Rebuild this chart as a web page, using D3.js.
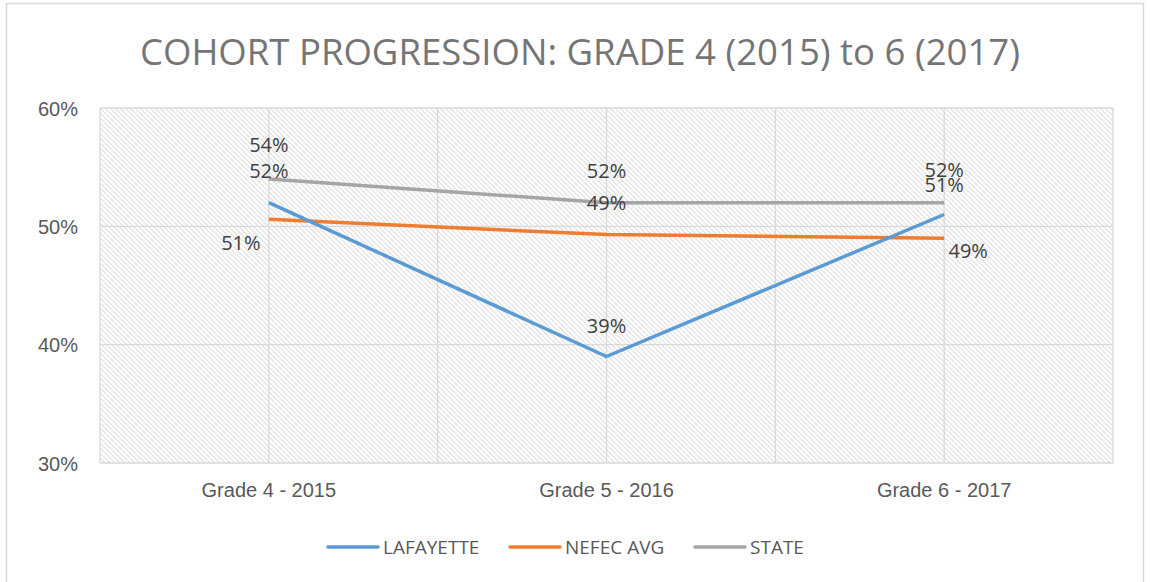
<!DOCTYPE html>
<html>
<head>
<meta charset="utf-8">
<script src="https://d3js.org/d3.v7.min.js"></script>
<style>
  html, body { margin: 0; padding: 0; background: #fff; }
  svg { display: block; font-family: "Open Sans", "Noto Sans", sans-serif; }
</style>
</head>
<body>
<div id="chart"></div>
<script>
// chart data
var categories = ["Grade 4 - 2015", "Grade 5 - 2016", "Grade 6 - 2017"];
var seriesNames = ["LAFAYETTE", "NEFEC AVG", "STATE"];
var lafayette = [52, 39, 51];
var nefec = [50.6, 49.3, 49.0];
var state = [54, 52, 52];
var yTicks = [30, 40, 50, 60];
var titleText = "COHORT PROGRESSION: GRADE 4 (2015) to 6 (2017)";

var colors = ["#5B9BD5", "#ED7D31", "#A5A5A5"];

var width = 1150, height = 582;
var margin = {top: 108, right: 37, bottom: 119, left: 100};
var iw = width - margin.left - margin.right,
    ih = height - margin.top - margin.bottom;

var svg = d3.select("#chart").append("svg")
    .attr("width", width).attr("height", height);

// outer frame (top, left, right edges)
svg.append("path")
    .attr("d", "M6.5,582 V3.5 H1143.5 V582")
    .attr("fill", "none").attr("stroke", "#d9d9d9").attr("stroke-width", 1.5);

// hatch pattern
var defs = svg.append("defs");
var pat = defs.append("pattern")
    .attr("id", "hatch").attr("patternUnits", "userSpaceOnUse")
    .attr("width", 5).attr("height", 5);
pat.append("rect").attr("width", 5).attr("height", 5).attr("fill", "#fff");
pat.append("path")
    .attr("d", "M-1,-1 L6,6 M-1,4 L1,6 M4,-1 L6,1")
    .attr("stroke", "#dedede").attr("stroke-width", 1.1);

var g = svg.append("g").attr("transform", "translate(" + margin.left + "," + margin.top + ")");

var x = d3.scaleBand().domain(categories).range([0, iw]).padding(0);
var y = d3.scaleLinear().domain([30, 60]).range([ih, 0]);
var cx = function(c) { return x(c) + x.bandwidth() / 2; };

g.append("rect").attr("width", iw).attr("height", ih).attr("fill", "url(#hatch)");

// horizontal gridlines
g.selectAll(".hgrid").data(yTicks).enter().append("line")
    .attr("x1", 0).attr("x2", iw)
    .attr("y1", function(d) { return y(d); }).attr("y2", function(d) { return y(d); })
    .attr("stroke", "#d9d9d9").attr("stroke-width", 1.3);

// vertical gridlines at category centers and edges
var vg = [];
categories.forEach(function(c) { vg.push(x(c)); vg.push(cx(c)); });
vg.push(iw);
g.selectAll(".vgrid").data(vg).enter().append("line")
    .attr("x1", function(d) { return d; }).attr("x2", function(d) { return d; })
    .attr("y1", 0).attr("y2", ih)
    .attr("stroke", "#d9d9d9").attr("stroke-width", 1.3);

// y axis
var yAxis = g.append("g").call(d3.axisLeft(y).tickValues(yTicks)
    .tickFormat(function(d) { return d + "%"; }).tickSize(0).tickPadding(22));
yAxis.select(".domain").remove();
yAxis.selectAll("text").attr("fill", "#595959").style("font-size", "20px")
    .attr("dy", "0.35em");

// x axis
var xAxis = g.append("g").attr("transform", "translate(0," + ih + ")")
    .call(d3.axisBottom(x).tickSize(0).tickPadding(20));
xAxis.select(".domain").remove();
xAxis.selectAll("text").attr("fill", "#595959").style("font-size", "20px");

// lines
var allSeries = [lafayette, nefec, state];
var line = d3.line()
    .x(function(d, i) { return cx(categories[i]); })
    .y(function(d) { return y(d); });

[2, 1, 0].forEach(function(s) {
  g.append("path").datum(allSeries[s])
      .attr("d", line)
      .attr("fill", "none")
      .attr("stroke", colors[s])
      .attr("stroke-width", 3.5)
      .attr("stroke-linejoin", "round");
});

// data labels (offsets relative to the point, as placed in the original)
var labelOffsets = [
  [[0, -32], [0, -31], [0, -30]],
  [[-28, 24], [0, -32], [24, 13]],
  [[0, -34], [0, -32], [0, -33]]
];
allSeries.forEach(function(vals, s) {
  vals.forEach(function(v, i) {
    g.append("text")
      .attr("x", cx(categories[i]) + labelOffsets[s][i][0])
      .attr("y", y(v) + labelOffsets[s][i][1])
      .attr("dy", "0.35em")
      .attr("text-anchor", "middle")
      .attr("fill", "#404040")
      .style("font-size", "20px")
      .text(Math.round(v) + "%");
  });
});

// title
svg.append("text")
    .attr("x", 580).attr("y", 52).attr("dy", "0.35em")
    .attr("text-anchor", "middle")
    .attr("fill", "#757575")
    .style("font-size", "36px")
    .attr("textLength", 880).attr("lengthAdjust", "spacingAndGlyphs")
    .text(titleText);

// legend
var legendX = [328, 510, 695];
var legend = svg.append("g").attr("transform", "translate(0,547)");
seriesNames.forEach(function(n, i) {
  legend.append("line")
    .attr("x1", legendX[i]).attr("x2", legendX[i] + 50)
    .attr("stroke", colors[i]).attr("stroke-width", 3.5)
    .attr("stroke-linecap", "round");
  legend.append("text")
    .attr("x", legendX[i] + 55).attr("dy", "0.35em")
    .attr("fill", "#595959").style("font-size", "19px")
    .text(n);
});
</script>
</body>
</html>
